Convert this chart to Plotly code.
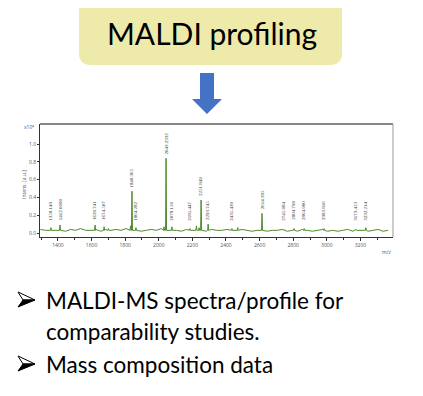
import plotly.graph_objects as go

W, H = 423, 396
OFF = 8  # page body margin in the browser

# ---------------- data ----------------
title_text = "MALDI profiling"
bullet_lines = ["MALDI-MS spectra/profile for", "comparability studies.", "Mass composition data"]

peak_mz = [1358.15, 1412.01, 1620.74, 1674.51, 1840.37, 1864.28, 2043.23, 2078.15, 2185.45,
           2251.85, 2293.75, 2435.43, 2614.39, 2745.08, 2804.79, 2864.90, 2983.82, 3173.45, 3232.21]
peak_int = [0.06, 0.09, 0.09, 0.07, 0.47, 0.06, 0.84, 0.07, 0.05,
            0.37, 0.10, 0.05, 0.22, 0.04, 0.05, 0.05, 0.05, 0.04, 0.06]
peak_labels = ["1358.149", "1412.0090", "1620.741", "1674.507", "1840.365", "1864.282", "2043.2332",
               "2078.150", "2185.447", "2251.849", "2293.745", "2435.430", "2614.385", "2745.084",
               "2804.790", "2864.900", "2983.816", "3173.453", "3232.214"]

minor_mz = [1832.0, 2031.0, 2224.0, 2240.0, 1700.0, 2470.0]
minor_int = [0.08, 0.07, 0.08, 0.06, 0.05, 0.06]

base_mz = list(range(1295, 3395, 30))
base_int = [0.04, 0.03, 0.05, 0.03, 0.04, 0.02, 0.04, 0.03, 0.05, 0.03, 0.03, 0.04, 0.02, 0.04,
            0.03, 0.04, 0.03, 0.05, 0.03, 0.04, 0.02, 0.03, 0.04, 0.03, 0.05, 0.03, 0.04, 0.03,
            0.02, 0.04, 0.03, 0.04, 0.03, 0.02, 0.04, 0.03, 0.03, 0.04, 0.02, 0.03, 0.04, 0.03,
            0.02, 0.03, 0.04, 0.02, 0.03, 0.03, 0.04, 0.02, 0.03, 0.02, 0.04, 0.03, 0.02, 0.03,
            0.04, 0.02, 0.03, 0.02, 0.03, 0.04, 0.02, 0.03, 0.03, 0.02, 0.03, 0.04, 0.02, 0.03]

x_ticks = [1400, 1600, 1800, 2000, 2200, 2400, 2600, 2800, 3000, 3200]
y_ticks = [0.0, 0.2, 0.4, 0.6, 0.8, 1.0]

# ---------------- helpers ----------------
def px(x):
    return (x - OFF) / W

def py(y):
    return 1 - (y - OFF) / H

# build spectrum trace: baseline + triangular peaks
pts = list(zip(base_mz, base_int[:len(base_mz)]))
for m, h in list(zip(peak_mz, peak_int)) + list(zip(minor_mz, minor_int)):
    pts = [p for p in pts if abs(p[0] - m) > 4]
    pts += [(m - 3, 0.03), (m, h), (m + 3, 0.03)]
pts.sort()
sx = [p[0] for p in pts]
sy = [p[1] for p in pts]

fig = go.Figure()
fig.add_trace(go.Scatter(x=sx, y=sy, mode="lines", line=dict(color="#4E8A2E", width=1),
                         hoverinfo="skip", showlegend=False))

# plot area in pixels
L, R, T, B = 40, 393, 124, 237
fig.update_layout(
    width=W, height=H, margin=dict(l=0, r=0, t=0, b=0),
    paper_bgcolor="white", plot_bgcolor="white", showlegend=False,
    xaxis=dict(domain=[px(L), px(R)], range=[1293, 3394], showgrid=False, zeroline=False,
               showline=True, linecolor="#333", linewidth=1, ticks="outside", ticklen=3,
               tickcolor="#333", tickvals=x_ticks, tickfont=dict(size=5, color="#555"),
               minor=dict(ticks="outside", ticklen=2, tickcolor="#333", dtick=100)),
    yaxis=dict(domain=[py(B), py(T)], range=[-0.045, 1.225], showgrid=False, zeroline=False,
               showline=True, linecolor="#333", linewidth=1, ticks="outside", ticklen=2,
               tickcolor="#333", tickvals=y_ticks, ticktext=[f"{v:.1f}" for v in y_ticks],
               tickfont=dict(size=5, color="#555")),
)

shapes = []
# top & right frame
shapes.append(dict(type="line", xref="paper", yref="paper", x0=px(L), x1=px(R), y0=py(T), y1=py(T),
                   line=dict(color="#888", width=2)))
shapes.append(dict(type="line", xref="paper", yref="paper", x0=px(R), x1=px(R), y0=py(T), y1=py(B),
                   line=dict(color="#999", width=1)))

# rounded title box
x0, x1, y0, y1, r = 79, 342, -1, 65, 12
path = (f"M {px(x0+r)},{py(y0)} L {px(x1-r)},{py(y0)} Q {px(x1)},{py(y0)} {px(x1)},{py(y0+r)} "
        f"L {px(x1)},{py(y1-r)} Q {px(x1)},{py(y1)} {px(x1-r)},{py(y1)} "
        f"L {px(x0+r)},{py(y1)} Q {px(x0)},{py(y1)} {px(x0)},{py(y1-r)} "
        f"L {px(x0)},{py(y0+r)} Q {px(x0)},{py(y0)} {px(x0+r)},{py(y0)} Z")
shapes.append(dict(type="path", xref="paper", yref="paper", path=path,
                   fillcolor="#EDEAAA", line=dict(width=0), layer="below"))

# blue arrow
ax = [200, 214, 214, 222, 207, 192, 200]
ay = [73, 73, 99, 99, 114, 99, 99]
apath = "M " + " L ".join(f"{px(a)},{py(b)}" for a, b in zip(ax, ay)) + " Z"
shapes.append(dict(type="path", xref="paper", yref="paper", path=apath,
                   fillcolor="#4472C4", line=dict(width=0)))

ys = [300, 331, 364]
# arrowhead bullets
for i, c in enumerate(ys):
    if i == 1:
        continue
    up = [(18, c - 8), (35, c), (23, c)]
    lo = [(23, c), (35, c), (18, c + 7)]
    for poly, fill in ((up, "white"), (lo, "black")):
        p = "M " + " L ".join(f"{px(a)},{py(b)}" for a, b in poly) + " Z"
        shapes.append(dict(type="path", xref="paper", yref="paper", path=p,
                           fillcolor=fill, line=dict(color="black", width=1)))
fig.update_layout(shapes=shapes)

ann = []
ann.append(dict(text=title_text, xref="paper", yref="paper", x=px(212), y=py(33), showarrow=False,
                font=dict(family="Lato", size=30, color="black"), xanchor="center", yanchor="middle"))

# peak labels
for m, h, lab in zip(peak_mz, peak_int, peak_labels):
    ann.append(dict(text=lab, x=m, y=max(h, 0.10) + 0.02, xref="x", yref="y", showarrow=False,
                    textangle=-90, xanchor="center", yanchor="bottom",
                    font=dict(size=5, color="#333", family="Liberation Serif")))

# axis annotations
ann.append(dict(text="x10⁴", xref="paper", yref="paper", x=px(36), y=py(127),
                showarrow=False, xanchor="right", yanchor="middle", font=dict(size=5, color="#555")))
ann.append(dict(text="Intens. [a.u.]", xref="paper", yref="paper", x=px(24), y=py(185),
                showarrow=False, textangle=-90, xanchor="center", yanchor="middle",
                font=dict(size=5, color="#555")))
ann.append(dict(text="m/z", xref="paper", yref="paper", x=px(386), y=py(252),
                showarrow=False, xanchor="center", yanchor="middle", font=dict(size=5, color="#555")))

# bullets
for line, yy in zip(bullet_lines, ys):
    ann.append(dict(text=line, xref="paper", yref="paper", x=px(44), y=py(yy), showarrow=False,
                    xanchor="left", yanchor="middle",
                    font=dict(family="Lato", size=22.5, color="black")))
fig.update_layout(annotations=ann)

fig.write_html("out.html")
